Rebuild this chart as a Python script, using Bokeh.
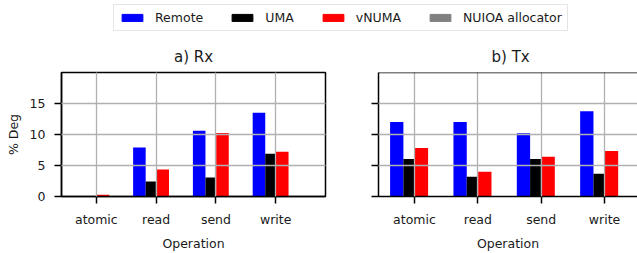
from bokeh.plotting import figure
from bokeh.models import (FixedTicker, Range1d, ColumnDataSource, Legend, LegendItem, Span)
from bokeh.transform import dodge
from bokeh.layouts import column, row
from bokeh.embed import file_html
from bokeh.resources import INLINE
import numpy as np

# ---- data ----
ops = ["atomic", "read", "send", "write"]
series = ["Remote", "UMA", "vNUMA", "NUIOA allocator"]
colors = ["#0000ff", "#000000", "#ff0000", "#808080"]

rx_remote = [0.0, 7.9, 10.6, 13.5]
rx_uma = [0.0, 2.4, 3.05, 6.9]
rx_vnuma = [0.3, 4.35, 10.25, 7.2]

tx_remote = [12.0, 12.0, 10.2, 13.75]
tx_uma = [6.05, 3.2, 6.05, 3.68]
tx_vnuma = [7.82, 4.0, 6.4, 7.35]

yticks = [0, 5, 10, 15]
ygrid_ticks = [5, 10, 15]

FONT = "DejaVu Sans"
FS = "12.5px"
TXT = "#1a1a1a"

# bar geometry (offset, width) per series
geom = [(-0.28, 0.21), (-0.09, 0.17), (0.11, 0.21)]


def make_panel(title, remote, uma, vnuma, width, xr, mbl, mbr, show_ylabels):
    p = figure(width=width, height=215, output_backend="svg", toolbar_location=None,
               x_range=Range1d(*xr), y_range=Range1d(0, 20),
               min_border_left=mbl, min_border_right=mbr,
               min_border_top=34, min_border_bottom=56)
    src = ColumnDataSource(dict(x=np.arange(len(ops)), remote=remote, uma=uma, vnuma=vnuma))
    for (off, w), col, c in zip(geom, ["remote", "uma", "vnuma"], colors):
        p.vbar(x=dodge("x", off, range=p.x_range), top=col, width=w, bottom=0,
               source=src, fill_color=c, line_color=None)

    p.title.text = title
    p.title.text_font = FONT
    p.title.text_font_size = "15px"
    p.title.text_font_style = "normal"
    p.title.text_color = TXT
    p.title.standoff = 14

    p.xaxis.ticker = FixedTicker(ticks=list(range(len(ops))))
    p.xaxis.major_label_overrides = {i: o for i, o in enumerate(ops)}
    p.yaxis.ticker = FixedTicker(ticks=yticks)
    if not show_ylabels:
        p.yaxis.major_label_overrides = {t: "" for t in yticks}
    p.xgrid.ticker = FixedTicker(ticks=list(range(len(ops))))
    p.ygrid.ticker = FixedTicker(ticks=ygrid_ticks)
    p.grid.grid_line_color = "#b0b0b0"
    p.grid.grid_line_width = 1.3
    p.grid.level = "annotation"

    for ax in p.axis:
        ax.axis_line_color = "black"
        ax.axis_line_width = 1.5
        ax.major_tick_line_color = "black"
        ax.major_tick_line_width = 1.5
        ax.major_tick_out = 7
        ax.major_tick_in = 0
        ax.minor_tick_out = 0
        ax.minor_tick_in = 0
        ax.major_label_text_font = FONT
        ax.major_label_text_font_size = FS
        ax.major_label_text_color = TXT
        ax.axis_label_text_font = FONT
        ax.axis_label_text_font_size = FS
        ax.axis_label_text_font_style = "normal"
        ax.axis_label_text_color = TXT
    p.xaxis.major_label_standoff = 8
    p.xaxis.axis_label_standoff = 6
    p.yaxis.major_label_standoff = 9
    p.yaxis.axis_label_standoff = 6
    p.xaxis.axis_label = "Operation"
    p.background_fill_color = "white"
    p.border_fill_color = "white"
    return p, src


p1, src_rx = make_panel("a) Rx", rx_remote, rx_uma, rx_vnuma, 348, (-0.583, 3.833), 61, 23, True)
p1.yaxis.axis_label = "% Deg"
p1.outline_line_color = "black"
p1.outline_line_width = 1.5
p1.title.align = "center"

p2, src_tx = make_panel("b) Tx", tx_remote, tx_uma, tx_vnuma, 289, (-0.568, 3.52), 30, 0, False)
p2.outline_line_color = None
p2.title.align = "left"
p2.title.offset = 113
p2.add_layout(Span(location=20, dimension="width", line_color="black", line_width=1.5, level="annotation"))

# ---- legend figure (proxy renderers lie far outside its visible ranges) ----
leg = figure(width=637, height=38, output_backend="svg", toolbar_location=None,
             x_range=Range1d(-100, -99), y_range=Range1d(-100, -99),
             min_border=0, min_border_left=0, min_border_right=0,
             min_border_top=0, min_border_bottom=0)
leg.axis.visible = False
leg.grid.visible = False
leg.outline_line_color = None
items = []
for name, c in zip(series, colors):
    r = leg.vbar(x="x", top="remote", bottom=0, width=0.1, source=src_rx,
                 fill_color=c, line_color=c)
    items.append(LegendItem(label=name, renderers=[r]))
legend = Legend(items=items, orientation="horizontal", location=(113, 7),
                glyph_width=26, glyph_height=9, label_standoff=10, spacing=26,
                padding=5, margin=0, label_height=15,
                label_text_font=FONT, label_text_font_size=FS, label_text_color=TXT,
                border_line_color="#cccccc", border_line_width=1.3,
                background_fill_color="white", background_fill_alpha=1.0)
leg.add_layout(legend, "center")

layout = column(leg, row(p1, p2, spacing=0), spacing=0)

open("out.html", "w").write(file_html(layout, INLINE))
